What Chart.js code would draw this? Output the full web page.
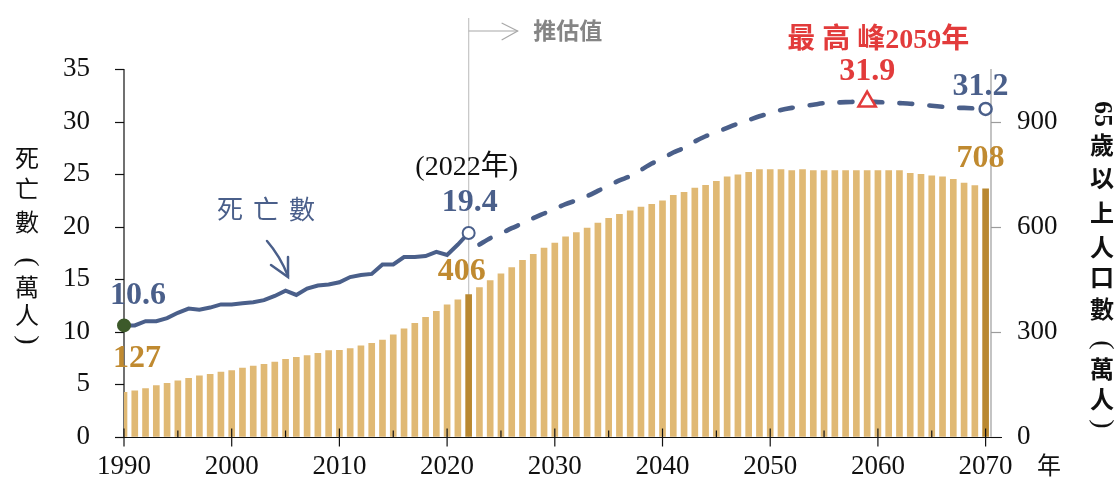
<!DOCTYPE html>
<html>
<head>
<meta charset="utf-8">
<script src="https://cdn.jsdelivr.net/npm/chart.js@4/dist/chart.umd.min.js"></script>
<style>
html,body{margin:0;padding:0;background:#fff;}
#wrap{width:1119px;height:487px;position:relative;}
canvas{display:block;}
</style>
</head>
<body>
<div id="wrap"><canvas id="c" width="1119" height="487"></canvas></div>
<script>
// ---------------- DATA ----------------
const years = [1990,1991,1992,1993,1994,1995,1996,1997,1998,1999,
  2000,2001,2002,2003,2004,2005,2006,2007,2008,2009,
  2010,2011,2012,2013,2014,2015,2016,2017,2018,2019,
  2020,2021,2022,2023,2024,2025,2026,2027,2028,2029,
  2030,2031,2032,2033,2034,2035,2036,2037,2038,2039,
  2040,2041,2042,2043,2044,2045,2046,2047,2048,2049,
  2050,2051,2052,2053,2054,2055,2056,2057,2058,2059,
  2060,2061,2062,2063,2064,2065,2066,2067,2068,2069,2070];

// 65歲以上人口數（萬人）
const pop65 = [127,131,138,146,153,160,167,174,178,185,
  189,196,202,207,213,221,227,232,238,246,
  247,252,260,267,276,291,308,324,341,358,
  377,391,406,426,446,465,483,504,521,539,
  553,571,583,596,610,624,635,645,656,664,
  674,689,698,710,718,729,742,748,755,763,
  763,763,760,763,760,760,760,760,760,760,
  760,760,760,752,749,745,742,735,724,717,708];

// 死亡數（萬人）實際值 1990–2022
const deathYears = [1990,1991,1992,1993,1994,1995,1996,1997,1998,1999,
  2000,2001,2002,2003,2004,2005,2006,2007,2008,2009,
  2010,2011,2012,2013,2014,2015,2016,2017,2018,2019,
  2020,2021,2022];
const deathsActual = [10.6,10.6,11.0,11.0,11.3,11.8,12.2,12.1,12.3,12.6,
  12.6,12.7,12.8,13.0,13.4,13.9,13.5,14.1,14.4,14.5,
  14.7,15.2,15.4,15.5,16.4,16.4,17.1,17.1,17.2,17.6,
  17.3,18.3,19.4];

// 死亡數（萬人）推估值 2023–2070
const projYears = [2023,2024,2025,2026,2027,2028,2029,
  2030,2031,2032,2033,2034,2035,2036,2037,2038,2039,
  2040,2041,2042,2043,2044,2045,2046,2047,2048,2049,
  2050,2051,2052,2053,2054,2055,2056,2057,2058,2059,
  2060,2061,2062,2063,2064,2065,2066,2067,2068,2069,2070];
const deathsProjected = [18.3,18.9,19.35,19.85,20.3,20.8,21.25,
  21.7,22.15,22.5,22.9,23.4,23.9,24.4,24.8,25.4,26.0,
  26.5,27.05,27.5,28.1,28.6,29.0,29.4,29.8,30.15,30.5,
  30.8,31.1,31.3,31.45,31.6,31.75,31.8,31.85,31.88,31.9,
  31.85,31.8,31.75,31.7,31.6,31.5,31.4,31.3,31.3,31.25,31.2];

const xTickValues = [1990,2000,2010,2020,2030,2040,2050,2060,2070];
const xMinorTickValues = [1995,2005,2015,2025,2035,2045,2055,2065];
const leftTickValues = [0,5,10,15,20,25,30,35];
const rightTickValues = [0,300,600,900];
const estimateStart = 2022;
const peakYear = 2059;
const highlightYears = [2022, 2070];

// ---------------- STYLE ----------------
const SERIF = '"Liberation Serif", "Times New Roman", "Noto Sans CJK TC", serif';
const BLUE = '#4a5f8a', GOLD = '#c08a30', BAR = '#e0b974', BAR_DARK = '#b98830',
      RED = '#e23b3b', GREEN = '#3d5a2a';

const barColors = years.map(y => highlightYears.includes(y) ? BAR_DARK : BAR);
const lastActual = deathYears.length - 1;
const actualRadius = deathYears.map((y, i) => (i === 0 || i === lastActual) ? 6 : 0);
const actualFill = deathYears.map((y, i) => i === 0 ? GREEN : '#fff');
const actualBorder = deathYears.map((y, i) => i === 0 ? GREEN : BLUE);
const lastProj = projYears.length - 1;
const projRadius = projYears.map((y, i) => y === peakYear ? 10 : (i === lastProj ? 6 : 0));
const projStyle = projYears.map(y => y === peakYear ? 'triangle' : 'circle');
const projBorder = projYears.map(y => y === peakYear ? RED : BLUE);

function seg(ctx, x1, y1, x2, y2) { ctx.beginPath(); ctx.moveTo(x1, y1); ctx.lineTo(x2, y2); ctx.stroke(); }
function txt(ctx, s, x, y, font, color, align) {
  ctx.font = font; ctx.fillStyle = color; ctx.textAlign = align || 'center'; ctx.textBaseline = 'middle';
  ctx.fillText(s, x, y);
}

const decor = {
  id: 'decor',
  beforeDatasetsDraw(chart) {
    const { ctx, chartArea: a, scales: { x, y, y2 } } = chart;
    ctx.save();
    // 推估 divider
    const xv = x.getPixelForValue(estimateStart);
    ctx.strokeStyle = '#c9c9c9'; ctx.lineWidth = 1.3;
    seg(ctx, xv, 18, xv, a.bottom);
    // arrow to 推估值
    ctx.strokeStyle = '#a8a8a8'; ctx.lineWidth = 1.2;
    seg(ctx, xv, 31, xv + 49, 31);
    ctx.beginPath(); ctx.moveTo(xv + 33, 23); ctx.lineTo(xv + 49, 31); ctx.lineTo(xv + 33, 40); ctx.stroke();
    // left axis
    ctx.strokeStyle = '#111'; ctx.lineWidth = 1.2;
    seg(ctx, a.left, y.getPixelForValue(35), a.left, a.bottom);
    leftTickValues.forEach(v => { const py = Math.round(y.getPixelForValue(v)) + 0.5; seg(ctx, a.left - 9, py, a.left, py); });
    // right axis
    ctx.strokeStyle = '#9c9c9c';
    seg(ctx, a.right, a.top, a.right, a.bottom);
    rightTickValues.forEach(v => { const py = Math.round(y2.getPixelForValue(v)) + 0.5; seg(ctx, a.right, py, a.right + 10, py); });
    ctx.restore();
  },
  afterDatasetsDraw(chart) {
    const { ctx, chartArea: a, scales: { x } } = chart;
    ctx.save();
    ctx.strokeStyle = '#111'; ctx.lineWidth = 1.2;
    const by = Math.round(a.bottom) + 0.5;
    seg(ctx, a.left - 9, by, a.right + 11, by);
    xTickValues.forEach(v => { const px = x.getPixelForValue(v); seg(ctx, px, by - 9, px, by + 9); });
    xMinorTickValues.forEach(v => { const px = x.getPixelForValue(v); seg(ctx, px, by - 7, px, by); });
    ctx.restore();
  },
  afterDraw(chart) {
    const { ctx, scales: { x, y, y2 } } = chart;
    ctx.save();
    const B = 'bold 32px ' + SERIF;
    // 1990 labels
    const x0 = x.getPixelForValue(years[0]);
    txt(ctx, deathsActual[0].toFixed(1), x0 + 14, y.getPixelForValue(deathsActual[0]) - 30, B, BLUE);
    txt(ctx, String(pop65[0]), x0 + 13, y2.getPixelForValue(pop65[0]) - 34, B, GOLD);
    // 2022 labels
    const xe = x.getPixelForValue(estimateStart);
    txt(ctx, '(2022年)', xe - 2, 168, '28px ' + SERIF, '#111');
    txt(ctx, deathsActual[lastActual].toFixed(1), xe + 1, y.getPixelForValue(deathsActual[lastActual]) - 30, B, BLUE);
    txt(ctx, String(pop65[years.indexOf(estimateStart)]), xe - 7, y2.getPixelForValue(pop65[years.indexOf(estimateStart)]) - 23, B, GOLD);
    // peak
    const pi = projYears.indexOf(peakYear);
    const xp = x.getPixelForValue(peakYear);
    txt(ctx, '最 高 峰2059年', xp + 11, 41, 'bold 28px ' + SERIF, RED);
    txt(ctx, deathsProjected[pi].toFixed(1), xp, y.getPixelForValue(deathsProjected[pi]) - 30, B, RED);
    // 2070
    const xl = x.getPixelForValue(years[years.length - 1]);
    txt(ctx, deathsProjected[lastProj].toFixed(1), xl - 5, y.getPixelForValue(deathsProjected[lastProj]) - 22, B, BLUE);
    txt(ctx, String(pop65[pop65.length - 1]), xl - 5, y2.getPixelForValue(pop65[pop65.length - 1]) - 30, B, GOLD);
    // 推估值
    txt(ctx, '推估值', xe + 99, 33, 'bold 23px ' + SERIF, '#858585');
    // 死亡數 label + arrow
    ['死', '亡', '數'].forEach((c, i) => txt(ctx, c, 230 + i * 36, 212, '26px ' + SERIF, BLUE));
    ctx.strokeStyle = BLUE; ctx.lineWidth = 2.5; ctx.lineCap = 'round';
    ctx.beginPath(); ctx.moveTo(267, 241); ctx.quadraticCurveTo(280, 256, 288, 276); ctx.stroke();
    ctx.beginPath(); ctx.moveTo(271, 265); ctx.lineTo(288, 277); ctx.lineTo(288, 257); ctx.stroke();
    // 年
    txt(ctx, '年', 1049, 468, '24px ' + SERIF, '#111');
    // left axis title
    const lf = '24px ' + SERIF;
    const lchars = [['死', 161], ['亡', 192], ['數', 225], ['(', 262], ['萬', 290], ['人', 318], [')', 340]];
    lchars.forEach(([c, cy]) => {
      if (c === '(' || c === ')') {
        ctx.save(); ctx.translate(27, cy); ctx.rotate(Math.PI / 2);
        txt(ctx, c, 0, 0, '28px ' + SERIF, '#111'); ctx.restore();
      } else txt(ctx, c, 27, cy, lf, '#111');
    });
    // right axis title
    ctx.save(); ctx.translate(1102, 114); ctx.rotate(Math.PI / 2);
    txt(ctx, '65', 0, 0, 'bold 26px ' + SERIF, '#111'); ctx.restore();
    const rchars = [['歲', 148], ['以', 181], ['上', 216], ['人', 250], ['口', 280], ['數', 312], ['(', 345], ['萬', 372], ['人', 402], [')', 424]];
    rchars.forEach(([c, cy]) => {
      if (c === '(' || c === ')') {
        ctx.save(); ctx.translate(1102, cy); ctx.rotate(Math.PI / 2);
        txt(ctx, c, 0, 0, '28px ' + SERIF, '#111'); ctx.restore();
      } else txt(ctx, c, 1102, cy, 'bold 24px ' + SERIF, '#111');
    });
    ctx.restore();
  }
};

new Chart(document.getElementById('c'), {
  type: 'bar',
  data: {
    datasets: [
      {
        type: 'line', label: '死亡數',
        data: deathYears.map((yr, i) => ({ x: yr, y: deathsActual[i] })),
        yAxisID: 'y', borderColor: BLUE, borderWidth: 4, tension: 0,
        pointRadius: actualRadius, pointBackgroundColor: actualFill, pointBorderColor: actualBorder,
        pointBorderWidth: 2, clip: false, order: 1
      },
      {
        type: 'line', label: '死亡數推估',
        data: projYears.map((yr, i) => ({ x: yr, y: deathsProjected[i] })),
        yAxisID: 'y', borderColor: BLUE, borderWidth: 4.6, tension: 0.3,
        borderDash: [13, 17], borderCapStyle: 'round',
        pointRadius: projRadius, pointStyle: projStyle, pointBackgroundColor: '#fff',
        pointBorderColor: projBorder, pointBorderWidth: 2.5, clip: false, order: 0
      },
      {
        type: 'bar', label: '65歲以上人口數',
        data: years.map((yr, i) => ({ x: yr, y: pop65[i] })),
        yAxisID: 'y2', backgroundColor: barColors, barThickness: 6, clip: 0, order: 5
      }
    ]
  },
  options: {
    responsive: false, animation: false, devicePixelRatio: 1,
    layout: { padding: { top: 69, left: 0, right: 0, bottom: 0 } },
    plugins: { legend: { display: false }, tooltip: { enabled: false } },
    scales: {
      x: {
        type: 'linear', min: 1990, max: 2070.5, offset: false,
        afterBuildTicks: s => { s.ticks = xTickValues.map(v => ({ value: v })); },
        afterFit: s => { s.height = 39; },
        ticks: { font: { family: SERIF, size: 27 }, color: '#111', padding: 14, maxRotation: 0, autoSkip: false, callback: v => String(v) },
        grid: { display: false, drawTicks: false, offset: false }, border: { display: false }
      },
      y: {
        position: 'left', min: 0, max: 35,
        afterBuildTicks: s => { s.ticks = leftTickValues.map(v => ({ value: v })); },
        afterFit: s => { s.width = 124; },
        ticks: { font: { family: SERIF, size: 27 }, color: '#111', padding: 34, callback: v => String(v) },
        grid: { display: false, drawTicks: false }, border: { display: false }
      },
      y2: {
        position: 'right', min: 0, max: 1050,
        afterBuildTicks: s => { s.ticks = rightTickValues.map(v => ({ value: v })); },
        afterFit: s => { s.width = 128; },
        ticks: { font: { family: SERIF, size: 27 }, color: '#111', padding: 26, callback: v => String(v) },
        grid: { display: false, drawTicks: false }, border: { display: false }
      }
    }
  },
  plugins: [decor]
});
</script>
</body>
</html>
